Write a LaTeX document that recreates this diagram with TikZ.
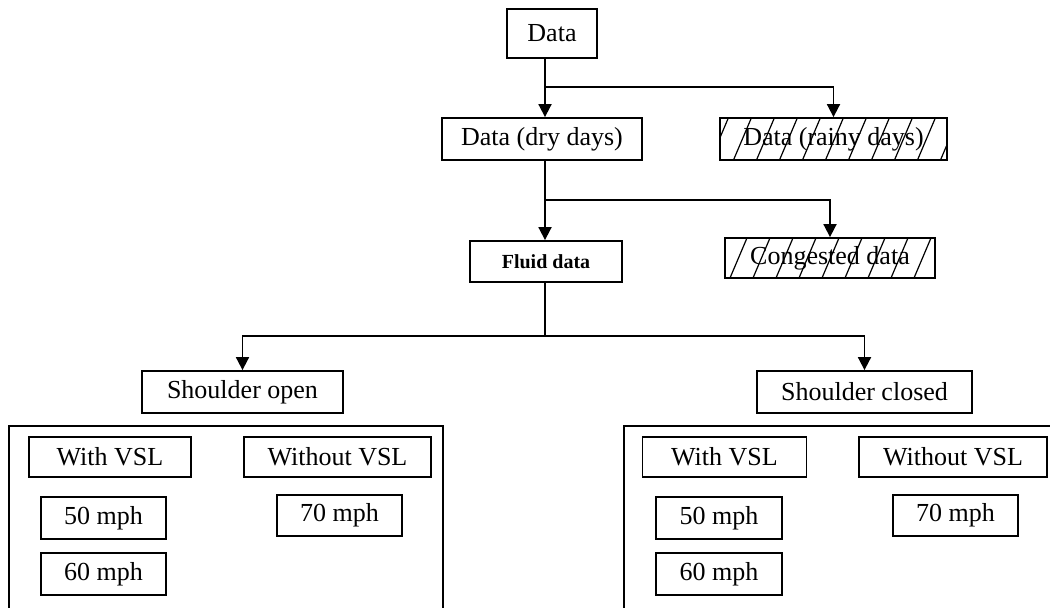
\documentclass[tikz,border=0pt]{standalone}
\usepackage{fontspec}
\setmainfont{Liberation Serif}
\usetikzlibrary{arrows.meta}

\begin{document}
\begin{tikzpicture}[
		x=0.5pt, y=-0.5pt,
		every node/.style={rectangle, draw, line width=0.9pt, inner sep=0pt, font=\fontsize{13}{15}\selectfont},
		hatch/.style={path picture={
			\foreach \k in {-6,...,6}
				\draw[line width=0.6pt] ([xshift=\k*11.5pt-4pt]path picture bounding box.south) -- ++(67:30pt);
		}},
		arr/.style={-{Triangle[length=6.5pt, width=6.5pt]}, line width=0.9pt}
	]
  \useasboundingbox (0, 0) rectangle (1050, 608);
  \node (data) [minimum width=45pt, minimum height=24.5pt] at (552, 33.5) {Data};
  \node (dry) [minimum width=100pt, minimum height=21pt] at (542, 139) {Data (dry days)};
  \node (rainy) [hatch, minimum width=113.5pt, minimum height=21pt] at (833.5, 139) {Data (rainy days)};
  \node (fluid) [minimum width=76pt, minimum height=20.5pt, font=\fontsize{10}{12}\selectfont\bfseries] at (546, 261.5) {Fluid data};
  \node (cong) [hatch, minimum width=105pt, minimum height=20pt] at (830, 258) {Congested data};
  \node (s_open) [minimum width=100.5pt, minimum height=21pt] at (242.5, 392) {Shoulder open};
  \node (s_closed) [minimum width=107.5pt, minimum height=21pt] at (864.5, 392) {Shoulder closed};
  \node (g_open) [minimum width=217pt, minimum height=95pt] at (226, 521) {};
  \node (g_closed) [minimum width=218pt, minimum height=95pt] at (842, 521) {};
  \node (o_with) [minimum width=81pt, minimum height=20pt] at (110, 457) {With VSL};
  \node (o_without) [minimum width=93.5pt, minimum height=20pt] at (337.5, 457) {Without VSL};
  \node (o_50) [minimum width=62.5pt, minimum height=21pt] at (103.5, 518) {50 mph};
  \node (o_60) [minimum width=62.5pt, minimum height=21pt] at (103.5, 574) {60 mph};
  \node (o_70) [minimum width=62.5pt, minimum height=20.5pt] at (339.5, 515.5) {70 mph};
  \node (c_with) [minimum width=82pt, minimum height=20pt] at (724.5, 457) {With VSL};
  \node (c_without) [minimum width=94pt, minimum height=20pt] at (953, 457) {Without VSL};
  \node (c_50) [minimum width=63pt, minimum height=21pt] at (719, 518) {50 mph};
  \node (c_60) [minimum width=63pt, minimum height=21pt] at (719, 574) {60 mph};
  \node (c_70) [minimum width=62.5pt, minimum height=20.5pt] at (955.5, 515.5) {70 mph};
  \coordinate (j1) at (545, 87);
  \coordinate (j2) at (545, 200);
  \coordinate (j3) at (545, 336);
  \draw[arr] (data.south -| j1) -- (dry.north -| j1);
  \draw[arr] (j1) -| (rainy.north);
  \draw[line width=0.9pt] (dry.south -| j2) -- (j2);
  \draw[arr] (j2) -- (fluid.north -| j2);
  \draw[arr] (j2) -| (cong.north);
  \draw[line width=0.9pt] (fluid.south -| j3) -- (j3);
  \draw[arr] (j3) -| (s_open.north);
  \draw[arr] (j3) -| (s_closed.north);
\end{tikzpicture}
\end{document}
